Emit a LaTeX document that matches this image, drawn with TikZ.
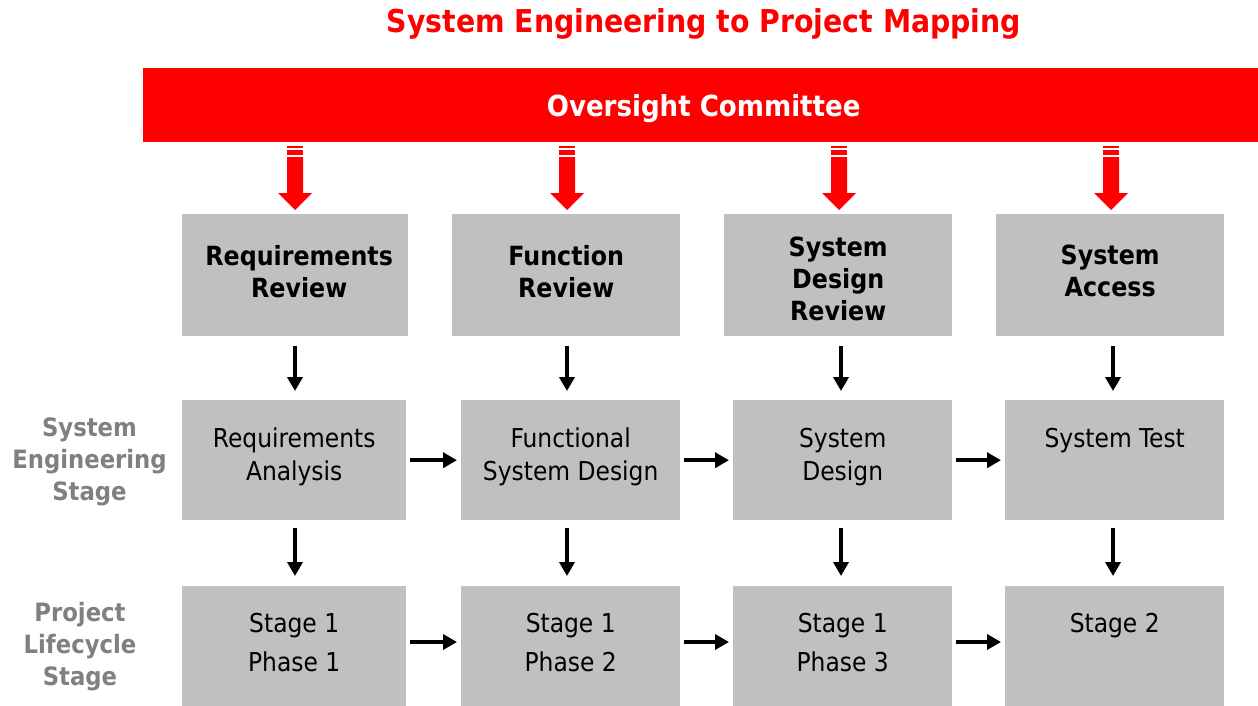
\documentclass[tikz,border=0pt]{standalone}
\usepackage{fontspec}
\setmainfont{DejaVu Sans Condensed}
\usetikzlibrary{arrows.meta,calc}
\definecolor{hired}{HTML}{FF0000}
\definecolor{boxgray}{HTML}{C0C0C0}
\definecolor{labgray}{HTML}{808080}
\begin{document}
\begin{tikzpicture}[x=1pt,y=-1pt,
  gbox/.style={fill=boxgray,draw=none,minimum width=#1,minimum height=122pt,inner sep=0pt,anchor=north west},
  gbox/.default=226pt,
  revtext/.style={font=\fontsize{26.4}{32}\selectfont\bfseries,align=center,inner sep=0pt},
  midtext/.style={font=\fontsize{26}{33}\selectfont,align=center,inner sep=0pt,anchor=north},
  bottext/.style={font=\fontsize{26}{39}\selectfont,align=center,inner sep=0pt,anchor=north},
  sidetext/.style={font=\fontsize{25.3}{32}\selectfont\bfseries,text=labgray,align=center,inner sep=0pt},
  blk/.style={line width=3.5pt,-{Triangle[length=14pt,width=15pt]}},
  redarrow/.style={fill=hired,draw=none}
]
\useasboundingbox (0,0) rectangle (1258,706);

% title
\node[font=\fontsize{31.5}{36}\selectfont\bfseries,text=hired,inner sep=0pt,anchor=base] (title) at (704,33) {System Engineering to Project Mapping};

% oversight bar
\node[fill=hired,minimum width=1115pt,minimum height=74pt,inner sep=0pt,anchor=north west] (bar) at (143,68) {};
\node[font=\fontsize{29}{34}\selectfont\bfseries,text=white,inner sep=0pt] (bartext) at ($(bar.center)+(3,3)$) {Oversight Committee};

% red arrows
\foreach \cx in {295,567,839,1111}{
  \fill[redarrow] (\cx-8,146) rectangle (\cx+8,148.5);
  \fill[redarrow] (\cx-8,150.5) rectangle (\cx+8,155);
  \fill[redarrow] (\cx-8,157) -- (\cx+8,157) -- (\cx+8,193) -- (\cx+17,193) -- (\cx,210) -- (\cx-17,193) -- (\cx-8,193) -- cycle;
}

% top row boxes
\node[gbox=226pt] (t1) at (182,214) {};
\node[gbox=228pt] (t2) at (452,214) {};
\node[gbox=228pt] (t3) at (724,214) {};
\node[gbox=228pt] (t4) at (996,214) {};
\node[revtext] (tt1) at ($(t1.center)+(4,-4)$) {Requirements\\Review};
\node[revtext] (tt2) at ($(t2.center)+(0,-4)$) {Function\\Review};
\node[revtext] (tt3) at ($(t3.center)+(0,4)$) {System\\Design\\Review};
\node[revtext] (tt4) at ($(t4.center)+(0,-4)$) {System\\Access};

% middle row boxes
\node[gbox=224pt,minimum height=120pt] (m1) at (182,400) {};
\node[gbox=219pt,minimum height=120pt] (m2) at (461,400) {};
\node[gbox=219pt,minimum height=120pt] (m3) at (733,400) {};
\node[gbox=219pt,minimum height=120pt] (m4) at (1005,400) {};
\node[midtext] (mt1) at ($(m1.north)+(0,28)$) {Requirements\\Analysis};
\node[midtext] (mt2) at ($(m2.north)+(0,28)$) {Functional\\System Design};
\node[midtext] (mt3) at ($(m3.north)+(0,28)$) {System\\Design};
\node[midtext] (mt4) at ($(m4.north)+(0,28)$) {System Test};

% bottom row boxes
\node[gbox=224pt,minimum height=125pt] (b1) at (182,586) {};
\node[gbox=219pt,minimum height=125pt] (b2) at (461,586) {};
\node[gbox=219pt,minimum height=125pt] (b3) at (733,586) {};
\node[gbox=219pt,minimum height=125pt] (b4) at (1005,586) {};
\node[bottext] (bt1) at ($(b1.north)+(0,27)$) {Stage 1\\Phase 1};
\node[bottext] (bt2) at ($(b2.north)+(0,27)$) {Stage 1\\Phase 2};
\node[bottext] (bt3) at ($(b3.north)+(0,27)$) {Stage 1\\Phase 3};
\node[bottext] (bt4) at ($(b4.north)+(0,27)$) {Stage 2};

% side labels
\node[sidetext] (s1) at (89.5,462) {System\\Engineering\\Stage};
\node[sidetext] (s2) at (80,647) {Project\\Lifecycle\\Stage};

% vertical arrows
\coordinate (x1) at (295,0);
\coordinate (x2) at (567,0);
\coordinate (x3) at (841,0);
\coordinate (x4) at (1113,0);
\foreach \i in {1,2,3,4}{
  \draw[blk] ($(x\i |- t\i.south)+(0,10)$) -- ($(x\i |- m\i.north)+(0,-9)$);
  \draw[blk] ($(x\i |- m\i.south)+(0,8)$) -- ($(x\i |- b\i.north)+(0,-10)$);
}

% horizontal arrows
\foreach \a/\b in {1/2,2/3,3/4}{
  \draw[blk] ($(m\a.east)+(4,0)$) -- ($(m\b.west)+(-4,0)$);
  \draw[blk] ($(b\a.east |- 0,642)+(4,0)$) -- ($(b\b.west |- 0,642)+(-4,0)$);
}
\end{tikzpicture}
\end{document}
